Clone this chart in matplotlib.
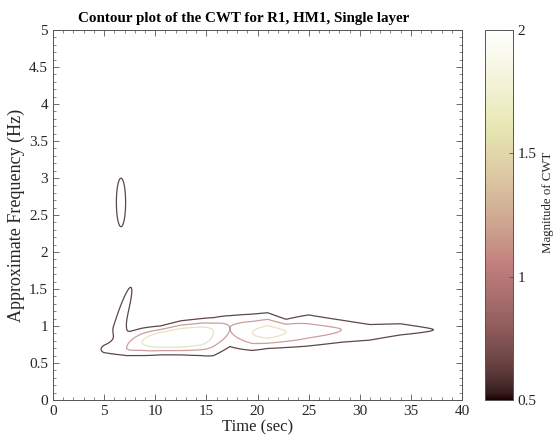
import numpy as np
import matplotlib
matplotlib.use('Agg')
import matplotlib.pyplot as plt
from matplotlib.ticker import MultipleLocator
from matplotlib.colors import Normalize
from matplotlib.cm import ScalarMappable

plt.rcParams['font.family'] = ['Liberation Serif', 'DejaVu Serif']

title = "Contour plot of the CWT for R1, HM1, Single layer"
xlabel = "Time (sec)"
ylabel = "Approximate Frequency (Hz)"
cbar_label = "Magnitude of CWT"
levels = [0.5, 1.0, 1.5]
clim = [0.5, 2.0]
x_ticks = [0, 5, 10, 15, 20, 25, 30, 35, 40]
y_ticks = [0, 0.5, 1, 1.5, 2, 2.5, 3, 3.5, 4, 4.5, 5]
y_tick_labels = ["0", "0.5", "1", "1.5", "2", "2.5", "3", "3.5", "4", "4.5", "5"]
cbar_ticks = [0.5, 1, 1.5, 2]
cbar_tick_labels = ["0.5", "1", "1.5", "2"]

# main CWT ridge, read along time (sec)
ridge_time = [0.0, 4.4, 5.0, 6.0, 7.2, 8.7, 10.5, 12.5, 14.5, 15.7, 17.3, 19.5, 21.0, 22.8, 25.0, 28.2, 31.0, 34.0, 37.2, 37.8, 40.0]
ridge_amp  = [0.0, 0.30, 0.70, 0.85, 1.00, 1.50, 2.20, 2.40, 2.10, 1.50, 1.00, 1.50, 1.75, 1.50, 1.20, 1.00, 0.85, 0.75, 0.50, 0.30, 0.0]
ridge_freq = [0.68, 0.68, 0.69, 0.69, 0.70, 0.78, 0.82, 0.84, 0.88, 0.92, 0.97, 0.91, 0.91, 0.92, 0.93, 0.95, 0.93, 0.95, 0.95, 0.95, 0.95]
ridge_wlo  = [0.06, 0.06, 0.061, 0.068, 0.085, 0.121, 0.122, 0.13, 0.165, 0.216, 0.21, 0.162, 0.135, 0.142, 0.151, 0.144, 0.117, 0.078, 0.06, 0.06, 0.06]
ridge_whi  = [0.06, 0.06, 0.061, 0.107, 0.17, 0.128, 0.105, 0.13, 0.13, 0.13, 0.144, 0.169, 0.17, 0.115, 0.166, 0.11, 0.087, 0.089, 0.05, 0.05, 0.05]

# slanted spike near 7 s
spike_amp = 0.85
spike_time0, spike_freq0 = 6.45, 1.0
spike_slope = 2.2
spike_wt = 0.5
spike_sf_up, spike_sf_lo = 0.505, 0.10

# isolated island near 2.7 Hz
island_time, island_freq = 6.65, 2.67
island_st, island_sf = 0.55, 0.40
island_amp = 0.7

t = np.linspace(0, 40, 801)
f = np.linspace(0, 5, 1001)
T, F = np.meshgrid(t, f)

A = np.interp(T, ridge_time, ridge_amp)
FC = np.interp(T, ridge_time, ridge_freq)
WL = np.interp(T, ridge_time, ridge_wlo)
WH = np.interp(T, ridge_time, ridge_whi)
D = F - FC
W = np.where(D < 0, WL, WH)
Z = A * np.exp(-0.5 * (D / W) ** 2)

TC = spike_time0 + spike_slope * (F - spike_freq0)
SF = np.where(F > spike_freq0, spike_sf_up, spike_sf_lo)
Z += spike_amp * np.exp(-0.5 * ((T - TC) / spike_wt) ** 2) * np.exp(-0.5 * ((F - spike_freq0) / SF) ** 2)

Z += island_amp * np.exp(-0.5 * ((T - island_time) / island_st) ** 2 - 0.5 * ((F - island_freq) / island_sf) ** 2)

fig = plt.figure(figsize=(5.57, 4.41), dpi=100)
ax = fig.add_axes([53 / 557, 41 / 441, 409 / 557, 370 / 441])
norm = Normalize(vmin=clim[0], vmax=clim[1])
ax.contour(T, F, Z, levels=levels, cmap='pink', norm=norm, linewidths=0.9, alpha=0.72)

ax.set_xlim(0, 40)
ax.set_ylim(0, 5)
ax.set_xticks(x_ticks)
ax.set_yticks(y_ticks)
ax.set_yticklabels(y_tick_labels)
ax.xaxis.set_minor_locator(MultipleLocator(1))
ax.yaxis.set_minor_locator(MultipleLocator(0.1))
ax.tick_params(which='both', direction='in', top=True, right=True, colors='#555555', labelcolor='#262626', labelsize=11)
ax.tick_params(which='major', length=4, width=0.6)
ax.tick_params(which='minor', length=2, width=0.5)
for s in ax.spines.values():
    s.set_color('#555555')
    s.set_linewidth(0.7)
ax.set_xlabel(xlabel, fontsize=12, color='#262626', labelpad=1)
ax.set_ylabel(ylabel, fontsize=13, color='#262626', labelpad=3)
ax.set_title(title, fontsize=10.8, fontweight='bold', pad=6, x=0.465)

cax = fig.add_axes([485 / 557, 41 / 441, 28 / 557, 370 / 441])
cb = fig.colorbar(ScalarMappable(norm=norm, cmap='pink'), cax=cax)
cb.set_ticks(cbar_ticks)
cb.set_ticklabels(cbar_tick_labels)
cb.outline.set_edgecolor('#555555')
cb.outline.set_linewidth(0.7)
cax.tick_params(direction='in', length=3, width=0.6, colors='#555555', labelcolor='#262626', labelsize=11)
cb.set_label(cbar_label, fontsize=9.3, color='#262626', labelpad=4)
cax.yaxis.label.set_y(0.535)

fig.savefig('out.png', dpi=100)
